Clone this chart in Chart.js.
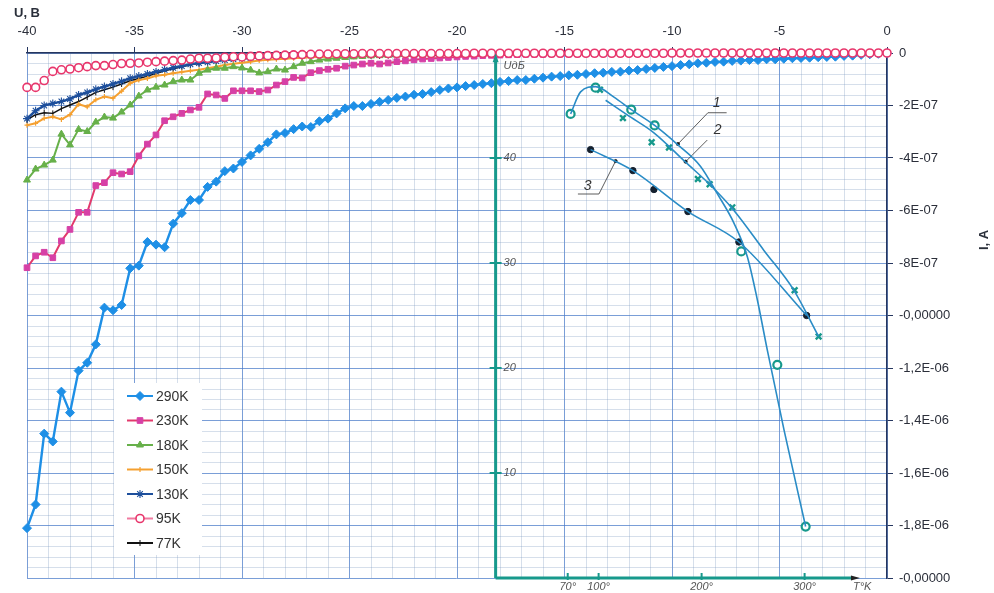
<!DOCTYPE html>
<html>
<head>
<meta charset="utf-8">
<script src="https://cdn.jsdelivr.net/npm/chart.js@4.4.1/dist/chart.umd.min.js"></script>
<style>
  html, body { margin: 0; padding: 0; background: #ffffff; }
  #wrap { position: relative; width: 994px; height: 593px; }
</style>
</head>
<body>
<div id="wrap"><canvas id="chart" width="994" height="593"></canvas></div>
<script>
// ---- main I-V data: U in volts, I in units of 1E-07 A ----
const volts = [
  -40,-39.6,-39.2,-38.8,-38.4,-38,-37.6,-37.2,-36.8,-36.4,
  -36,-35.6,-35.2,-34.8,-34.4,-34,-33.6,-33.2,-32.8,-32.4,
  -32,-31.6,-31.2,-30.8,-30.4,-30,-29.6,-29.2,-28.8,-28.4,
  -28,-27.6,-27.2,-26.8,-26.4,-26,-25.6,-25.2,-24.8,-24.4,
  -24,-23.6,-23.2,-22.8,-22.4,-22,-21.6,-21.2,-20.8,-20.4,
  -20,-19.6,-19.2,-18.8,-18.4,-18,-17.6,-17.2,-16.8,-16.4,
  -16,-15.6,-15.2,-14.8,-14.4,-14,-13.6,-13.2,-12.8,-12.4,
  -12,-11.6,-11.2,-10.8,-10.4,-10,-9.6,-9.2,-8.8,-8.4,
  -8,-7.6,-7.2,-6.8,-6.4,-6,-5.6,-5.2,-4.8,-4.4,
  -4,-3.6,-3.2,-2.8,-2.4,-2,-1.6,-1.2,-0.8,-0.4,
  0
];

const i290 = [
  -18.1,-17.2,-14.5,-14.8,-12.9,-13.7,-12.1,-11.8,-11.1,-9.7,
  -9.8,-9.6,-8.2,-8.1,-7.2,-7.3,-7.4,-6.5,-6.1,-5.6,
  -5.6,-5.1,-4.9,-4.5,-4.4,-4.15,-3.9,-3.65,-3.4,-3.1,
  -3.05,-2.9,-2.8,-2.82,-2.6,-2.5,-2.3,-2.11,-2.02,-2.02,
  -1.94,-1.86,-1.79,-1.71,-1.66,-1.59,-1.56,-1.49,-1.41,-1.35,
  -1.31,-1.26,-1.22,-1.18,-1.15,-1.1,-1.07,-1.03,-1.03,-0.98,
  -0.94,-0.9,-0.88,-0.85,-0.83,-0.8,-0.77,-0.75,-0.72,-0.71,
  -0.67,-0.65,-0.61,-0.57,-0.53,-0.5,-0.46,-0.43,-0.39,-0.37,
  -0.34,-0.33,-0.3,-0.29,-0.27,-0.27,-0.24,-0.24,-0.22,-0.2,
  -0.19,-0.18,-0.16,-0.15,-0.14,-0.11,-0.1,-0.07,-0.05,-0.03,
  -0.01
];
const i230 = [
  -8.18,-7.73,-7.59,-7.8,-7.16,-6.72,-6.07,-6.07,-5.05,-4.94,
  -4.56,-4.61,-4.52,-3.92,-3.47,-3.12,-2.58,-2.43,-2.3,-2.17,
  -2.07,-1.56,-1.6,-1.73,-1.44,-1.44,-1.44,-1.47,-1.41,-1.22,
  -1.09,-0.93,-0.95,-0.75,-0.67,-0.62,-0.58,-0.5,-0.46,-0.42,
  -0.39,-0.42,-0.38,-0.33,-0.3,-0.26,-0.23,-0.21,-0.19,-0.17,
  -0.15,-0.13,-0.12,-0.1,-0.09,-0.08,-0.07,-0.06,-0.05,-0.05,
  -0.05,-0.04,-0.04,-0.04,-0.04,-0.03,-0.03,-0.03,-0.03,-0.03,
  -0.03,-0.02,-0.02,-0.02,-0.02,-0.02,-0.02,-0.02,-0.02,-0.02,
  -0.02,-0.02,-0.01,-0.01,-0.01,-0.01,-0.01,-0.01,-0.01,-0.01,
  -0.01,-0.01,-0.01,-0.01,-0.01,0,0,0,0,0,
  0
];
const i180 = [
  -4.84,-4.42,-4.27,-4.08,-3.09,-3.5,-2.91,-2.99,-2.63,-2.44,
  -2.48,-2.25,-1.98,-1.64,-1.41,-1.3,-1.22,-1.09,-1.03,-1.03,
  -0.77,-0.65,-0.58,-0.58,-0.52,-0.57,-0.65,-0.76,-0.71,-0.61,
  -0.65,-0.52,-0.39,-0.33,-0.27,-0.23,-0.2,-0.17,-0.15,-0.13,
  -0.11,-0.1,-0.09,-0.08,-0.07,-0.06,-0.06,-0.05,-0.05,-0.04,
  -0.04,-0.04,-0.03,-0.03,-0.03,-0.03,-0.03,-0.02,-0.02,-0.02,
  -0.02,-0.02,-0.02,-0.02,-0.02,-0.02,-0.01,-0.01,-0.01,-0.01,
  -0.01,-0.01,-0.01,-0.01,-0.01,-0.01,-0.01,-0.01,-0.01,-0.01,
  -0.01,-0.01,-0.01,-0.01,-0.01,0,0,0,0,0,
  0,0,0,0,0,0,0,0,0,0,
  0
];
const i150 = [
  -2.75,-2.68,-2.49,-2.43,-2.53,-2.35,-1.95,-2.05,-1.78,-1.66,
  -1.72,-1.45,-1.15,-1.03,-0.97,-0.87,-0.83,-0.77,-0.72,-0.68,
  -0.64,-0.58,-0.52,-0.46,-0.41,-0.37,-0.33,-0.29,-0.26,-0.24,
  -0.22,-0.2,-0.18,-0.16,-0.15,-0.14,-0.12,-0.11,-0.1,-0.09,
  -0.08,-0.07,-0.07,-0.06,-0.06,-0.05,-0.05,-0.05,-0.04,-0.04,
  -0.04,-0.04,-0.03,-0.03,-0.03,-0.03,-0.03,-0.03,-0.02,-0.02,
  -0.02,-0.02,-0.02,-0.02,-0.02,-0.02,-0.02,-0.02,-0.02,-0.02,
  -0.02,-0.02,-0.01,-0.01,-0.01,-0.01,-0.01,-0.01,-0.01,-0.01,
  -0.01,-0.01,-0.01,-0.01,-0.01,-0.01,-0.01,-0.01,-0.01,-0.01,
  -0.01,-0.01,-0.01,0,0,0,0,0,0,0,
  0
];
const i130 = [
  -2.5,-2.2,-2.0,-1.92,-1.85,-1.75,-1.6,-1.5,-1.38,-1.28,
  -1.18,-1.08,-0.96,-0.88,-0.8,-0.72,-0.64,-0.56,-0.5,-0.43,
  -0.38,-0.35,-0.31,-0.27,-0.24,-0.21,-0.19,-0.17,-0.15,-0.13,
  -0.12,-0.11,-0.1,-0.09,-0.08,-0.07,-0.06,-0.06,-0.05,-0.05,
  -0.04,-0.04,-0.04,-0.03,-0.03,-0.03,-0.03,-0.02,-0.02,-0.02,
  -0.02,-0.02,-0.02,-0.02,-0.02,-0.02,-0.02,-0.02,-0.02,-0.02,
  -0.02,-0.01,-0.01,-0.01,-0.01,-0.01,-0.01,-0.01,-0.01,-0.01,
  -0.01,-0.01,-0.01,-0.01,-0.01,-0.01,-0.01,-0.01,-0.01,-0.01,
  -0.01,-0.01,-0.01,-0.01,-0.01,0,0,0,0,0,
  0,0,0,0,0,0,0,0,0,0,
  0
];
const i95 = [
  -1.31,-1.31,-1.05,-0.7,-0.64,-0.61,-0.56,-0.52,-0.48,-0.48,
  -0.44,-0.4,-0.39,-0.38,-0.35,-0.33,-0.31,-0.29,-0.27,-0.23,
  -0.2,-0.2,-0.19,-0.16,-0.14,-0.15,-0.13,-0.11,-0.1,-0.09,
  -0.08,-0.07,-0.06,-0.05,-0.04,-0.04,-0.03,-0.03,-0.03,-0.02,
  -0.02,-0.02,-0.02,-0.02,-0.02,-0.02,-0.02,-0.02,-0.02,-0.02,
  -0.02,-0.02,-0.01,-0.01,-0.01,-0.01,-0.01,-0.01,-0.01,-0.01,
  -0.01,-0.01,-0.01,-0.01,-0.01,-0.01,-0.01,-0.01,-0.01,-0.01,
  -0.01,-0.01,-0.01,-0.01,-0.01,0,0,0,0,0,
  0,0,0,0,0,0,0,0,0,0,
  0,0,0,0,0,0,0,0,0,0,
  0
];
const i77 = [
  -2.55,-2.35,-2.28,-2.3,-2.12,-1.98,-1.85,-1.68,-1.5,-1.4,
  -1.3,-1.18,-1.06,-0.97,-0.88,-0.78,-0.68,-0.6,-0.52,-0.45,
  -0.39,-0.34,-0.3,-0.26,-0.23,-0.21,-0.19,-0.17,-0.16,-0.15,
  -0.14,-0.14,-0.13,-0.13,-0.13,-0.12,-0.12,-0.12,-0.12,-0.11,
  -0.11,-0.11,-0.1,-0.1,-0.1,-0.1,-0.09,-0.09,-0.09,-0.09,
  -0.08,-0.08,-0.08,-0.07,-0.07,-0.07,-0.06,-0.06,-0.05,-0.05,
  -0.05,-0.04,-0.04,-0.04,-0.03,-0.03,-0.03,-0.02,-0.02,-0.02,
  -0.02,-0.02,-0.01,-0.01,-0.01,-0.01,-0.01,-0.01,-0.01,-0.01,
  -0.01,-0.01,-0.01,-0.01,-0.01,0,0,0,0,0,
  0,0,0,0,0,0,0,0,0,0,
  0
];

const seriesNames = ['290K', '230K', '180K', '150K', '130K', '95K', '77K'];
const yTickLabels = ['0', '-2E-07', '-4E-07', '-6E-07', '-8E-07', '-0,00000',
                     '-1,2E-06', '-1,4E-06', '-1,6E-06', '-1,8E-06', '-0,00000'];

// ---- inset: U (dB) against T (K) ----
const tTicks = [70, 100, 200, 300];
const uTicks = [10, 20, 30, 40];
const t1 = [72.8, 97, 131.7, 154.4, 238.5, 273.5, 301];
const u1 = [44.2, 46.7, 44.6, 43.1, 31.1, 20.3, 4.9];
const t2 = [101.3, 123.6, 151.5, 168.3, 196.4, 207.8, 229.8, 290.3, 313.6];
const u2 = [46.5, 43.8, 41.5, 41.0, 38.0, 37.5, 35.3, 27.4, 23.0];
const t3 = [92.2, 133.3, 153.7, 186.7, 236.2, 302];
const u3 = [40.8, 38.8, 37.0, 34.9, 32.0, 25.0];
const fit1T = [72.8, 82.5, 97.1, 114.9, 131.7, 154.4, 176.4, 199, 215.2, 231.4, 244.4, 254.1, 263.8, 280, 301];
const fit1U = [44.2, 46.3, 46.8, 45.8, 44.6, 43.1, 41.3, 39.2, 36.6, 33.8, 30.6, 26.5, 21.7, 14.1, 4.9];
const fit2T = [106.8, 127.8, 153.7, 184.5, 208.7, 231.4, 260.5, 289.6, 313.6];
const fit2U = [45.5, 44.1, 42.4, 39.6, 37.4, 35.0, 31.2, 27.4, 23.0];
const fit3T = [92.2, 133.3, 186.7, 236.2, 302];
const fit3U = [40.8, 38.8, 34.9, 32.0, 25.0];
const lead1T = [224.3, 206.1, 177.0], lead1U = [44.31, 44.31, 41.33];
const lead2T = [205.5, 184.5],        lead2U = [41.71, 39.65];
const lead3T = [79.9, 100.3, 116.5],  lead3U = [36.57, 36.57, 39.71];

const FONT = '"Liberation Sans", Arial, sans-serif';
const INSET_FONT = '"Liberation Sans", Arial, sans-serif';
const axisColor = '#26365f';
const majorGrid = 'rgba(70,120,200,0.72)';
const minorGrid = 'rgba(120,150,190,0.3)';
const teal = '#17998c';
const fitBlue = '#2a8cc6';

function pts(xs, ys) { return xs.map((x, k) => ({ x: x, y: ys[k] })); }

function ivSet(label, ys, color, pointColor, style, radius, extra) {
  return Object.assign({
    label: label,
    data: pts(volts, ys),
    borderColor: color,
    backgroundColor: pointColor,
    pointBackgroundColor: pointColor,
    pointBorderColor: pointColor,
    pointStyle: style,
    pointRadius: radius,
    pointBorderWidth: 1,
    borderWidth: 2,
    tension: 0,
    fill: false,
    clip: 8
  }, extra || {});
}

function insetSet(xs, ys, extra) {
  return Object.assign({
    data: pts(xs, ys),
    xAxisID: 'x2',
    yAxisID: 'y2',
    fill: false,
    pointRadius: 0,
    borderWidth: 1.6,
    borderColor: fitBlue
  }, extra || {});
}

const datasets = [
  ivSet('290K', i290, '#1e8fe6', '#1e8fe6', 'rectRot', 4.5, { borderWidth: 2.4 }),
  ivSet('230K', i230, '#e23a6c', '#d640a6', 'rect', 4, {}),
  ivSet('180K', i180, '#67b04a', '#67b04a', 'triangle', 4, {}),
  ivSet('150K', i150, '#f5a030', '#f5a030', 'cross', 2.5, { pointBorderWidth: 1.2 }),
  ivSet('130K', i130, '#1d4f9c', '#1d4f9c', 'star', 4, { borderWidth: 2.4, pointBorderWidth: 1.1 }),
  ivSet('95K', i95, '#f07aa0', '#ffffff', 'circle', 4, { pointBorderColor: '#e8366c', pointBorderWidth: 1.6, borderWidth: 1.4, order: -1 }),
  ivSet('77K', i77, '#111111', '#111111', 'line', 3, { pointRotation: 90, borderWidth: 1.5, pointBorderWidth: 1 }),

  insetSet(fit1T, fit1U, { cubicInterpolationMode: 'monotone' }),
  insetSet(fit2T, fit2U, { cubicInterpolationMode: 'monotone' }),
  insetSet(fit3T, fit3U, { cubicInterpolationMode: 'monotone' }),
  insetSet(lead1T, lead1U, { borderColor: '#333', borderWidth: 0.8, pointRadius: [0, 0, 1.6], pointBackgroundColor: '#111', pointBorderColor: '#111' }),
  insetSet(lead2T, lead2U, { borderColor: '#333', borderWidth: 0.8, pointRadius: [0, 1.6], pointBackgroundColor: '#111', pointBorderColor: '#111' }),
  insetSet(lead3T, lead3U, { borderColor: '#333', borderWidth: 0.8, pointRadius: [0, 0, 1.6], pointBackgroundColor: '#111', pointBorderColor: '#111' }),
  insetSet(t1, u1, { showLine: false, pointStyle: 'circle', pointRadius: 4, pointBorderWidth: 2.2, pointBorderColor: teal, pointBackgroundColor: '#ffffff' }),
  insetSet(t2, u2, { showLine: false, pointStyle: 'crossRot', pointRadius: 4, pointBorderWidth: 2.4, pointBorderColor: teal, pointBackgroundColor: teal }),
  insetSet(t3, u3, { showLine: false, pointStyle: 'circle', pointRadius: 3.2, pointBorderWidth: 1, pointBorderColor: '#15202e', pointBackgroundColor: '#15202e' })
];

// inset annotations (anchors in T/U units)
const insetNotes = [
  { text: '1', t: 214.6, u: 45.2 },
  { text: '2', t: 215.5, u: 42.7 },
  { text: '3', t: 89.3, u: 37.3 }
];

const legendPlugin = {
  id: 'boxLegend',
  afterDatasetsDraw(chart) {
    const ctx = chart.ctx;
    ctx.save();
    ctx.fillStyle = '#ffffff';
    ctx.fillRect(114, 383, 88, 172);
    seriesNames.forEach((name, k) => {
      const ds = chart.data.datasets[k];
      const y = 396 + k * 24.5;
      ctx.strokeStyle = ds.borderColor;
      ctx.lineWidth = 2;
      ctx.beginPath(); ctx.moveTo(127, y); ctx.lineTo(153, y); ctx.stroke();
      ctx.fillStyle = ds.pointBackgroundColor;
      ctx.strokeStyle = ds.pointBorderColor;
      ctx.lineWidth = ds.pointBorderWidth || 1;
      if (Chart.helpers && Chart.helpers.drawPoint) {
        Chart.helpers.drawPoint(ctx, { pointStyle: ds.pointStyle, radius: ds.pointRadius, rotation: ds.pointRotation || 0, borderWidth: ds.pointBorderWidth || 1 }, 140, y);
      }
      ctx.fillStyle = '#333333';
      ctx.font = '14px ' + FONT;
      ctx.textAlign = 'left';
      ctx.textBaseline = 'middle';
      ctx.fillText(name, 156, y + 1);
    });
    ctx.restore();
  }
};

const textPlugin = {
  id: 'freeText',
  afterDatasetsDraw(chart) {
    const ctx = chart.ctx;
    const sx = chart.scales.x2, sy = chart.scales.y2;
    const ox = sx.getPixelForValue(0), oy = sy.getPixelForValue(0);
    ctx.save();
    // inset axes
    ctx.strokeStyle = teal;
    ctx.fillStyle = teal;
    ctx.lineWidth = 3;
    const topY = sy.getPixelForValue(49.3), endX = sx.getPixelForValue(345);
    ctx.beginPath(); ctx.moveTo(ox, oy); ctx.lineTo(ox, topY); ctx.stroke();
    ctx.beginPath(); ctx.moveTo(ox, oy); ctx.lineTo(endX, oy); ctx.stroke();
    ctx.beginPath(); ctx.moveTo(ox, topY - 7); ctx.lineTo(ox - 3, topY + 2); ctx.lineTo(ox + 3, topY + 2); ctx.closePath(); ctx.fill();
    ctx.fillStyle = '#222';
    ctx.beginPath(); ctx.moveTo(endX + 9, oy); ctx.lineTo(endX, oy - 2.5); ctx.lineTo(endX, oy + 2.5); ctx.closePath(); ctx.fill();
    ctx.lineWidth = 2;
    ctx.font = 'italic 11px ' + INSET_FONT;
    ctx.fillStyle = '#555';
    uTicks.forEach(v => {
      const y = sy.getPixelForValue(v);
      ctx.beginPath(); ctx.moveTo(ox - 6, y); ctx.lineTo(ox + 6, y); ctx.stroke();
      ctx.textAlign = 'left'; ctx.textBaseline = 'middle';
      ctx.fillText(String(v), ox + 8, y);
    });
    tTicks.forEach(v => {
      const x = sx.getPixelForValue(v);
      ctx.beginPath(); ctx.moveTo(x, oy - 5); ctx.lineTo(x, oy + 2); ctx.stroke();
      ctx.textAlign = 'center'; ctx.textBaseline = 'top';
      ctx.fillText(v + '°', x, oy + 3);
    });
    ctx.textAlign = 'left'; ctx.textBaseline = 'top';
    ctx.fillText('T°K', endX + 2, oy + 3);
    ctx.textBaseline = 'middle';
    ctx.fillText('UдБ', ox + 8, topY + 6);
    ctx.font = 'italic 14px ' + INSET_FONT;
    ctx.fillStyle = '#333';
    ctx.textAlign = 'center';
    insetNotes.forEach(n => ctx.fillText(n.text, sx.getPixelForValue(n.t), sy.getPixelForValue(n.u)));
    // axis titles
    ctx.fillStyle = '#2a2f3a';
    ctx.font = 'bold 13px ' + FONT;
    ctx.textAlign = 'left';
    ctx.textBaseline = 'middle';
    ctx.fillText('U, B', 14, 13);
    ctx.translate(984, 240);
    ctx.rotate(-Math.PI / 2);
    ctx.textAlign = 'center';
    ctx.fillText('I, A', 0, 0);
    ctx.restore();
  }
};

const isMajorX = v => Math.abs(v % 5) < 1e-6;
const isMajorY = v => Math.abs(v / 2 - Math.round(v / 2)) < 1e-6;

new Chart(document.getElementById('chart'), {
  type: 'line',
  data: { datasets: datasets },
  plugins: [legendPlugin, textPlugin],
  options: {
    responsive: false,
    devicePixelRatio: 1,
    animation: false,
    layout: { padding: { left: 27, right: 0, top: 0, bottom: 15 } },
    plugins: { legend: { display: false }, tooltip: { enabled: false } },
    elements: { line: { borderJoinStyle: 'round' } },
    scales: {
      x: {
        type: 'linear', position: 'top', min: -40, max: 0,
        afterFit: s => { s.height = 53; },
        ticks: {
          stepSize: 1, autoSkip: false, maxRotation: 0, padding: 8,
          color: '#2b2f3a', font: { family: FONT, size: 13 },
          callback: v => (isMajorX(v) ? String(v) : '')
        },
        grid: {
          color: c => (c.tick && isMajorX(c.tick.value) ? majorGrid : minorGrid),
          tickColor: c => (c.tick && isMajorX(c.tick.value) ? axisColor : 'rgba(0,0,0,0)'),
          lineWidth: 1, tickLength: 6
        },
        border: { color: axisColor, width: 1.5 }
      },
      y: {
        type: 'linear', position: 'right', min: -20, max: 0,
        afterFit: s => { s.width = 107; },
        ticks: {
          stepSize: 0.4, autoSkip: false, padding: 6,
          color: '#2b2f3a', font: { family: FONT, size: 13 },
          callback: v => (isMajorY(v) ? yTickLabels[Math.round(-v / 2)] : '')
        },
        grid: {
          color: c => (c.tick && isMajorY(c.tick.value) ? majorGrid : minorGrid),
          tickColor: c => (c.tick && isMajorY(c.tick.value) ? axisColor : 'rgba(0,0,0,0)'),
          lineWidth: 1, tickLength: 6
        },
        border: { color: axisColor, width: 1.5 }
      },
      x2: { type: 'linear', display: false, min: -455, max: 380 },
      y2: { type: 'linear', display: false, min: 0, max: 50 }
    }
  }
});
</script>
</body>
</html>
